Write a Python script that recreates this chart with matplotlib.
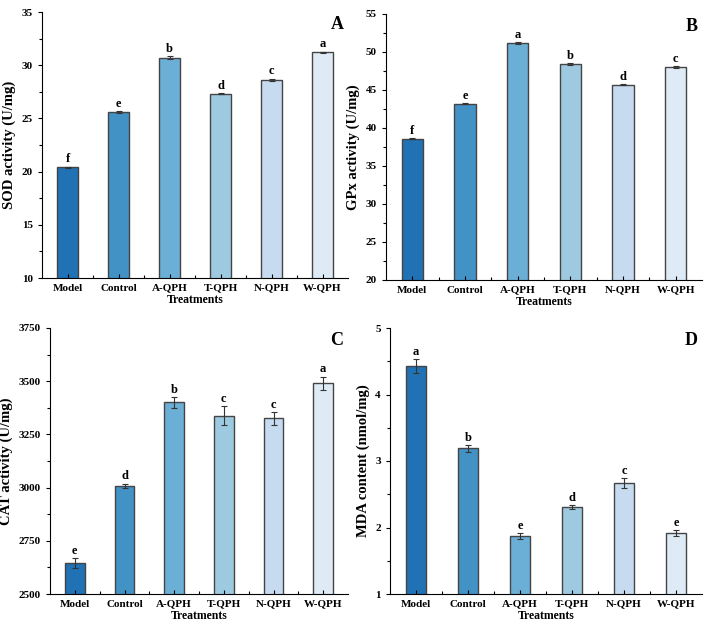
import matplotlib
matplotlib.use("Agg")
import matplotlib.pyplot as plt
from matplotlib.ticker import MultipleLocator, AutoMinorLocator, FixedLocator

treatments = ["Model", "Control", "A-QPH", "T-QPH", "N-QPH", "W-QPH"]
colors = ["#2171b5", "#4292c6", "#6baed6", "#9ecae1", "#c6dbef", "#deebf7"]

sod = [20.4, 25.6, 30.7, 27.3, 28.6, 31.2]
sod_err = [0.06, 0.05, 0.12, 0.05, 0.12, 0.06]
sod_sig = ["f", "e", "b", "d", "c", "a"]

gpx = [38.6, 43.2, 51.2, 48.4, 45.7, 48.0]
gpx_err = [0.06, 0.06, 0.12, 0.12, 0.06, 0.12]
gpx_sig = ["f", "e", "a", "b", "d", "c"]

cat = [2646, 3009, 3401, 3338, 3325, 3490]
cat_err = [22, 10, 25, 45, 29, 31]
cat_sig = ["e", "d", "b", "c", "c", "a"]

mda = [4.43, 3.19, 1.87, 2.31, 2.67, 1.91]
mda_err = [0.105, 0.05, 0.04, 0.025, 0.07, 0.045]
mda_sig = ["a", "b", "e", "d", "c", "e"]

plt.rcParams['font.family'] = ['Liberation Serif', 'DejaVu Serif']
plt.rcParams['font.weight'] = 'bold'

fig = plt.figure(figsize=(7.08, 6.32), dpi=100)

panels = [
    # values, errors, letters, ylabel, ylim, major step, panel tag, axes rect
    (sod, sod_err, sod_sig, "SOD activity (U/mg)", (10, 35), 5, "A", [42/708, 1-278/632, 306/708, 266/632]),
    (gpx, gpx_err, gpx_sig, "GPx activity (U/mg)", (20, 55), 5, "B", [386/708, 1-280/632, 316/708, 266/632]),
    (cat, cat_err, cat_sig, "CAT activity (U/mg)", (2500, 3750), 250, "C", [50/708, 1-594/632, 298/708, 266/632]),
    (mda, mda_err, mda_sig, "MDA content (nmol/mg)", (1, 5), 1, "D", [390/708, 1-594/632, 312/708, 266/632]),
]

for vals, errs, sig, ylab, ylim, step, tag, rect in panels:
    ax = fig.add_axes(rect)
    x = list(range(len(treatments)))
    ax.bar(x, vals, width=0.4, color=colors, edgecolor="#444444", linewidth=1.0,
           yerr=errs, error_kw=dict(ecolor="#333333", elinewidth=0.8, capsize=2.5, capthick=0.8))
    span = ylim[1] - ylim[0]
    for i, (v, e, s) in enumerate(zip(vals, errs, sig)):
        ax.text(i, v + e + span * 0.005, s, ha="center", va="bottom", fontsize=9, fontweight="bold")
    ax.set_xlim(-0.5, 5.5)
    ax.set_ylim(*ylim)
    ax.yaxis.set_major_locator(MultipleLocator(step))
    ax.yaxis.set_minor_locator(AutoMinorLocator(2))
    ax.set_xticks(x)
    ax.xaxis.set_minor_locator(FixedLocator([i + 0.5 for i in x[:-1]]))
    ax.set_xticklabels(treatments, fontsize=8, fontweight="bold")
    for lab in ax.get_yticklabels():
        lab.set_fontsize(8)
        lab.set_fontweight("bold")
    ax.tick_params(axis="y", direction="out", length=3, width=0.8)
    ax.tick_params(axis="y", which="minor", direction="out", length=2, width=0.8)
    ax.tick_params(axis="x", which="major", direction="in", length=3, width=0.8, pad=4)
    ax.tick_params(axis="x", which="minor", direction="in", length=2, width=0.8)
    ax.spines["top"].set_visible(False)
    ax.spines["right"].set_visible(False)
    ax.spines["left"].set_linewidth(0.8)
    ax.spines["bottom"].set_linewidth(0.8)
    ax.set_xlabel("Treatments", fontsize=8.5, fontweight="bold", labelpad=1)
    ax.set_ylabel(ylab, fontsize=10.5, fontweight="bold", labelpad=4)
    ax.text(0.985, 0.985, tag, transform=ax.transAxes, ha="right", va="top",
            fontsize=13, fontweight="bold")

fig.savefig("out.png", dpi=100)
